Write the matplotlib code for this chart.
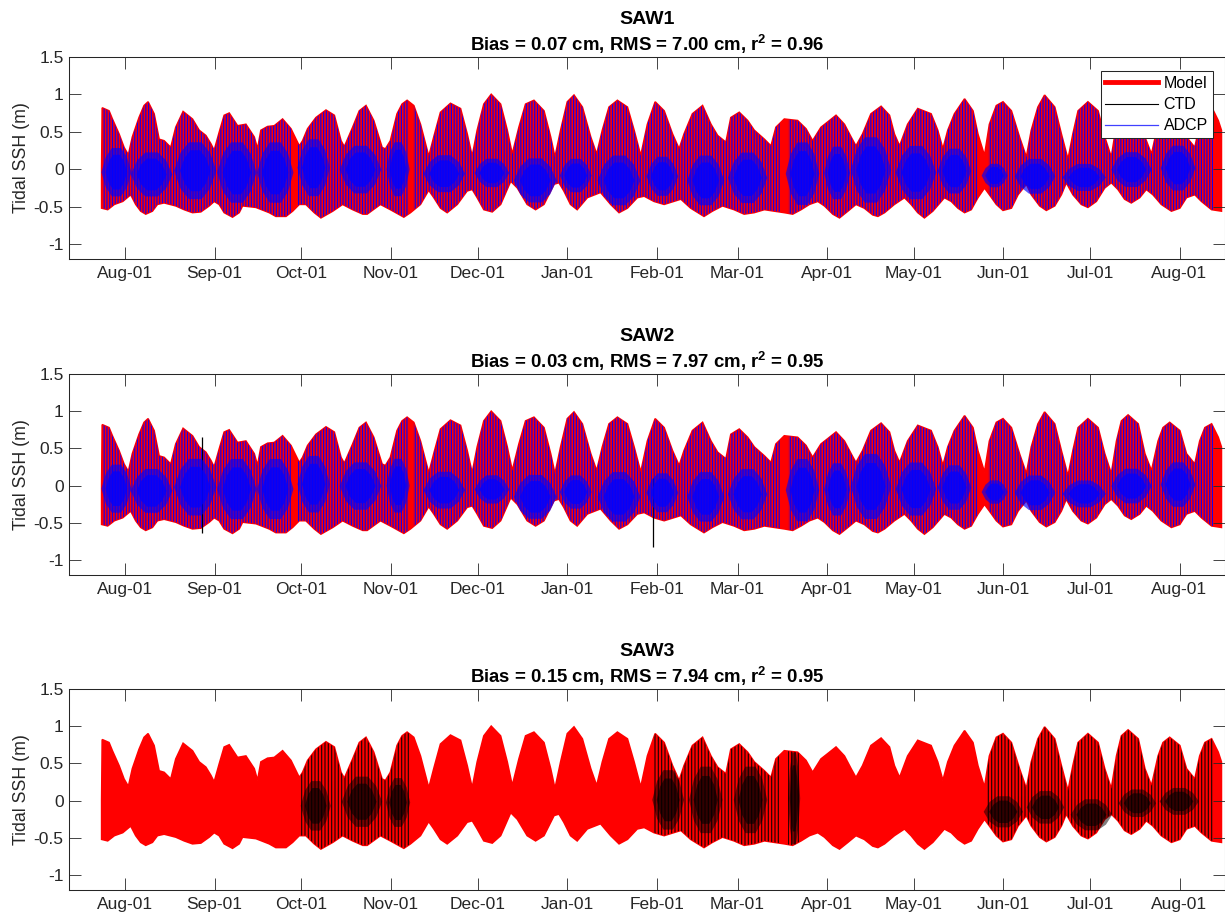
import numpy as np
import matplotlib
matplotlib.use("Agg")
import matplotlib.pyplot as plt
import matplotlib.dates as mdates
from matplotlib.patches import Rectangle
from matplotlib.lines import Line2D
from datetime import datetime

plt.rcParams['font.family'] = ['Liberation Sans', 'DejaVu Sans']
plt.rcParams['mathtext.fontset'] = 'custom'
plt.rcParams['mathtext.rm'] = 'Liberation Sans:bold'
plt.rcParams['mathtext.bf'] = 'Liberation Sans:bold'
plt.rcParams['mathtext.it'] = 'Liberation Sans:bold'
plt.rcParams['hatch.linewidth'] = 0.85

# ---------------- data (days since 2014-08-01) ----------------
station_names = ["SAW1", "SAW2", "SAW3"]
station_bias = [0.07, 0.03, 0.15]
station_rms = [7.00, 7.97, 7.94]
station_r2 = [0.96, 0.95, 0.95]

# Model tidal SSH upper envelope (m)
model_hi_day = [-8.1, -7.9, -5.55, -4.39, -2.08, -0.35, 1.16, 2.54, 4.85, 6.59, 7.97, 10.05, 11.79, 13.52,
                15.83, 17.56, 20.1, 23.34, 25.65, 27.96, 29.69, 30.85, 32.58, 34.32, 36.05, 38.94, 41.83,
                44.71, 45.87, 47.03, 49.33, 51.65, 54.53, 57.42, 60.31, 61.47, 63.2, 66.09, 69.55, 72.44,
                74.75, 75.91, 78.8, 81.1, 83.4, 86.08, 88.97, 90.12, 91.85, 94.16, 95.9, 97.63, 99.94,
                102.25, 103.99, 105.14, 106.87, 109.19, 112.65, 116.12, 118.43, 120.16, 121.9, 124.2,
                126.75, 129.98, 132.29, 134.03, 136.34, 138.65, 141.54, 145.0, 147.31, 148.81, 150.78,
                153.09, 155.4, 158.29, 161.18, 163.26, 165.22, 167.53, 170.42, 173.89, 176.2, 178.51,
                180.82, 183.5, 186.6, 189.5, 191.8, 193.5, 196.4, 199.9, 202.8, 205.1, 208.0, 209.7,
                212.6, 215.5, 217.8, 221.3, 223.6, 225.3, 228.2, 232.8, 235.7, 238.0, 240.9, 243.2,
                246.1, 249.0, 251.3, 253.0, 255.3, 258.2, 261.7, 264.6, 266.3, 268.1, 270.9, 274.4,
                279.0, 281.3, 283.1, 284.8, 287.1, 290.6, 293.5, 295.2, 297.5, 299.2, 301.6, 303.9,
                306.8, 309.6, 312.0, 313.7, 316.0, 318.3, 321.8, 324.1, 326.4, 328.1, 329.9, 333.3,
                336.8, 339.1, 341.4, 343.2, 344.9, 347.2, 350.7, 353.0, 355.3, 357.6, 359.3, 361.6,
                365.1, 367.4, 370.3, 372.0, 373.8, 376.1, 378.4, 379.5]
model_hi = [0.00, 0.82, 0.78, 0.67, 0.47, 0.29, 0.19, 0.43, 0.69, 0.85, 0.90, 0.74, 0.40, 0.38,
            0.29, 0.56, 0.77, 0.67, 0.52, 0.45, 0.34, 0.25, 0.49, 0.72, 0.75, 0.58, 0.60,
            0.43, 0.27, 0.52, 0.57, 0.58, 0.67, 0.54, 0.31, 0.38, 0.54, 0.69, 0.79, 0.72,
            0.38, 0.30, 0.56, 0.78, 0.85, 0.65, 0.29, 0.27, 0.38, 0.74, 0.87, 0.92, 0.85,
            0.60, 0.34, 0.17, 0.43, 0.76, 0.88, 0.81, 0.47, 0.17, 0.52, 0.87,
            1.00, 0.87, 0.52, 0.20, 0.56, 0.87, 0.92, 0.78, 0.43, 0.16, 0.52,
            0.90, 0.99, 0.83, 0.43, 0.20, 0.52, 0.83, 0.92, 0.83, 0.52, 0.18,
            0.60, 0.90, 0.78, 0.47, 0.27, 0.47, 0.74, 0.85, 0.60, 0.45, 0.36, 0.69,
            0.76, 0.65, 0.52, 0.40, 0.31, 0.56, 0.67, 0.65, 0.54, 0.38, 0.56, 0.63,
            0.72, 0.60, 0.43, 0.31, 0.47, 0.74, 0.84, 0.72, 0.47, 0.31, 0.60, 0.81,
            0.74, 0.52, 0.27, 0.52, 0.74, 0.94, 0.78, 0.47, 0.18, 0.60, 0.85, 0.90,
            0.78, 0.43, 0.16, 0.52, 0.83, 0.99, 0.83, 0.47, 0.13, 0.47, 0.78, 0.90,
            0.78, 0.43, 0.16, 0.60, 0.87, 0.95, 0.83, 0.43, 0.20, 0.60, 0.78, 0.85,
            0.74, 0.43, 0.29, 0.60, 0.78, 0.83, 0.65, 0.52]

# Model tidal SSH lower envelope (m)
model_lo_day = [-8.1, -6.01, -3.7, -0.81, 1.97, 3.7, 5.43, 7.16, 9.47, 11.2, 13.52, 17.56, 20.45, 23.34,
                26.23, 29.12, 30.85, 32.58, 34.32, 37.2, 39.5, 40.67, 45.29, 49.9, 52.2, 55.7, 58.0,
                60.3, 62.6, 65.5, 67.8, 71.9, 75.3, 78.8, 82.3, 83.8, 88.4, 91.85, 96.5, 98.8, 102.25,
                105.1, 106.9, 109.2, 111.5, 115.0, 118.4, 120.2, 121.9, 124.2, 127.1, 130.0, 133.5,
                135.8, 139.2, 142.1, 145.0, 148.5, 150.2, 151.9, 154.2, 156.5, 160.0, 164.6, 168.1,
                171.0, 173.9, 177.3, 179.7, 183.1, 186.6, 192.4, 195.8, 200.4, 203.3, 206.8, 210.8,
                214.3, 217.8, 221.3, 224.7, 228.2, 231.1, 234.0, 236.9, 239.8, 242.1, 245.0, 247.3,
                250.2, 253.0, 255.9, 258.8, 260.6, 262.9, 266.3, 269.8, 272.1, 274.4, 276.7, 279.6,
                282.5, 283.6, 286.0, 288.3, 290.6, 292.9, 295.2, 297.5, 299.2, 301.6, 303.9, 306.8,
                309.1, 312.0, 313.7, 316.6, 318.9, 321.8, 324.1, 325.8, 328.1, 331.0, 333.3, 336.2,
                339.1, 341.4, 343.7, 346.0, 348.3, 351.2, 353.5, 355.8, 358.7, 362.2, 365.1, 367.4,
                370.3, 372.6, 376.1, 379.5]
model_lo = [-0.52, -0.54, -0.47, -0.43, -0.34, -0.47, -0.56, -0.60, -0.56, -0.47, -0.45, -0.49, -0.54, -0.58,
            -0.57, -0.49, -0.43, -0.47, -0.58, -0.64, -0.58, -0.49, -0.51, -0.58, -0.63, -0.63, -0.56,
            -0.47, -0.47, -0.58, -0.65, -0.56, -0.47, -0.54, -0.60, -0.60, -0.47, -0.54, -0.64, -0.58, -0.47,
            -0.28, -0.38, -0.52, -0.58, -0.47, -0.29, -0.27, -0.38, -0.54, -0.57, -0.47, -0.16,
            -0.25, -0.47, -0.54, -0.47, -0.20, -0.18, -0.29, -0.47, -0.54, -0.38, -0.31, -0.47,
            -0.58, -0.52, -0.38, -0.36, -0.43, -0.47, -0.40, -0.52, -0.63, -0.56, -0.49, -0.54,
            -0.60, -0.58, -0.54, -0.56, -0.58, -0.60, -0.54, -0.47, -0.43, -0.49, -0.60, -0.65,
            -0.56, -0.47, -0.52, -0.61, -0.63, -0.58, -0.47, -0.38, -0.47, -0.58, -0.65, -0.56,
            -0.43, -0.38, -0.43, -0.52, -0.58, -0.54, -0.38, -0.25, -0.34, -0.47, -0.55, -0.52,
            -0.34, -0.20, -0.34, -0.49, -0.55, -0.49, -0.34, -0.18, -0.34, -0.47, -0.51, -0.43,
            -0.25, -0.18, -0.27, -0.40, -0.45, -0.38, -0.27, -0.34, -0.47, -0.56, -0.52, -0.38,
            -0.34, -0.43, -0.54, -0.56]

# ADCP record segments (start, end day) - gaps between deployments
adcp_seg_start = [-8.0, 59.5, 99.8, 229.5, 298.8]
adcp_seg_end = [57.8, 98.0, 227.0, 295.3, 376.6]
# dense inner part of the ADCP signal (centre day, half duration, top, bottom)
adcp_blob_day = [-3.0, 9.2, 24.3, 38.7, 52.0, 65.3, 81.5, 94.5, 110.5, 127.0, 142.0, 156.0, 171.0,
                 186.0, 201.0, 215.5, 234.5, 246.5, 258.2, 273.8, 287.1, 301.0, 315.0, 332.0, 348.4, 364.5]
adcp_blob_half = [5.2, 7.2, 7.3, 6.8, 6.3, 5.6, 7.2, 4.0, 7.2, 6.0, 7.4, 5.5, 7.4,
                  5.5, 6.4, 6.8, 5.8, 4.5, 7.0, 7.0, 5.8, 4.5, 7.0, 7.5, 7.0, 6.0]
adcp_blob_top = [0.30, 0.24, 0.38, 0.38, 0.38, 0.42, 0.33, 0.38, 0.20, 0.15, 0.16, 0.15, 0.20,
                 0.18, 0.20, 0.24, 0.38, 0.32, 0.45, 0.33, 0.29, 0.08, 0.15, 0.08, 0.24, 0.33]
adcp_blob_bot = [-0.38, -0.38, -0.42, -0.47, -0.47, -0.38, -0.34, -0.38, -0.32, -0.25, -0.46, -0.32, -0.50,
                 -0.37, -0.50, -0.47, -0.50, -0.42, -0.47, -0.42, -0.34, -0.25, -0.34, -0.30, -0.25, -0.30]

# SAW3 CTD record segments
ctd3_seg_start = [60.5, 183.2, 229.5, 298.0]
ctd3_seg_end = [98.5, 227.0, 233.8, 377.0]
ctd3_blob_day = [66.0, 82.0, 94.5, 188.0, 201.0, 216.5, 231.6, 304.0, 318.6, 334.5, 350.4, 364.9]
ctd3_blob_half = [5.2, 7.0, 4.2, 5.5, 5.8, 5.8, 2.1, 6.8, 6.5, 7.2, 6.5, 6.8]
ctd3_blob_top = [0.28, 0.34, 0.32, 0.43, 0.48, 0.48, 0.68, 0.07, 0.14, 0.03, 0.16, 0.18]
ctd3_blob_bot = [-0.42, -0.37, -0.37, -0.41, -0.46, -0.46, -0.62, -0.37, -0.32, -0.41, -0.23, -0.20]

# SAW2 CTD isolated spikes
ctd2_spike_day = [26.6, 182.7]
ctd2_spike_lo = [-0.63, -0.83]
ctd2_spike_hi = [0.66, 0.10]

# ---------------- plotting ----------------
base = mdates.date2num(datetime(2014, 8, 1))
RED = '#FF0000'
BLUE = (0.0, 0.0, 1.0)
AXC = '#262626'

hi_x = base + np.array(model_hi_day)
lo_x = base + np.array(model_lo_day)
env_x = np.concatenate([hi_x, lo_x[::-1]])
env_y = np.concatenate([np.array(model_hi), np.array(model_lo)[::-1]])

fig = plt.figure(figsize=(12.25, 9.19), dpi=100)
rects = [(0.05657, 0.7182, 0.9438, 0.2198),
         (0.05657, 0.3743, 0.9438, 0.2187),
         (0.05657, 0.0316, 0.9438, 0.2187)]


def hatch_obs(ax, starts, ends, color, alpha, z, hatch):
    for s0, s1 in zip(starts, ends):
        p = ax.fill(env_x, env_y, facecolor='none', edgecolor=(*color, alpha),
                    linewidth=0, hatch=hatch, zorder=z)[0]
        clip = Rectangle((base + s0, -5), s1 - s0, 10, transform=ax.transData)
        p.set_clip_path(clip)


def blobs(ax, days, halves, tops, bots, color, z, alphas):
    # lens outline (shape style only), scaled by each blob's read extent;
    # two layers give a denser core like the overplotted tidal line
    shape_x = [-1.0, -0.7, -0.3, 0.3, 0.7, 1.0, 0.7, 0.3, -0.3, -0.7]
    shape_k = [0.0, 0.6, 0.95, 0.95, 0.6, 0.0, 0.6, 0.95, 0.95, 0.6]
    for scale, alpha in zip((1.0, 0.72), alphas):
        for c, w, t, b in zip(days, halves, tops, bots):
            m = 0.5 * (t + b)
            xs = [base + c + sx * w * scale for sx in shape_x]
            ys = []
            for i, k in enumerate(shape_k):
                edge = t if (0 < i < 5) else b
                ys.append(m + k * scale * (edge - m))
            ax.fill(xs, ys, color=color, alpha=alpha, linewidth=0, zorder=z)


axes = []
for i, r in enumerate(rects):
    ax = fig.add_axes(r)
    axes.append(ax)
    ax.fill(env_x, env_y, facecolor=RED, edgecolor=RED, linewidth=1.2, zorder=1)

    if i == 0:
        hatch_obs(ax, adcp_seg_start, adcp_seg_end, BLUE, 0.9, 3, '||||||')
        blobs(ax, adcp_blob_day, adcp_blob_half, adcp_blob_top, adcp_blob_bot, 'blue', 4, (0.65, 0.75))
    elif i == 1:
        ax.vlines(base + np.array(ctd2_spike_day), ctd2_spike_lo, ctd2_spike_hi,
                  color='black', linewidth=0.9, zorder=2)
        hatch_obs(ax, adcp_seg_start, adcp_seg_end, BLUE, 0.9, 3, '||||||')
        blobs(ax, adcp_blob_day, adcp_blob_half, adcp_blob_top, adcp_blob_bot, 'blue', 4, (0.65, 0.75))
    else:
        hatch_obs(ax, ctd3_seg_start, ctd3_seg_end, (0.0, 0.0, 0.0), 0.85, 3, '|||||')
        blobs(ax, ctd3_blob_day, ctd3_blob_half, ctd3_blob_top, ctd3_blob_bot, 'black', 4, (0.5, 0.6))

    ax.set_xlim(base - 19.3, base + 380.9)
    ax.set_ylim(-1.2, 1.5)
    ax.set_yticks([-1, -0.5, 0, 0.5, 1, 1.5])
    ax.set_yticklabels(['-1', '-0.5', '0', '0.5', '1', '1.5'])
    ax.xaxis.set_major_locator(mdates.MonthLocator(bymonthday=1))
    ax.xaxis.set_major_formatter(mdates.DateFormatter('%b-%d'))
    ax.tick_params(direction='in', top=True, right=True, length=8.3, width=0.6,
                   color=AXC, labelcolor=AXC, labelsize=12.5)
    ax.tick_params(axis='x', pad=5)
    ax.tick_params(axis='y', pad=4)
    for sp in ax.spines.values():
        sp.set_color(AXC)
        sp.set_linewidth(0.75)
    ax.set_ylabel('Tidal SSH (m)', fontsize=12.8, color=AXC)
    ax.yaxis.set_label_coords(-0.034, 0.5)

    h_px = r[3] * 919
    ax.text(0.5, 1 + 33 / h_px, station_names[i], transform=ax.transAxes, ha='center',
            va='baseline', fontsize=14, fontweight='bold', color='black')
    stats = ('Bias = %.2f cm, RMS = %.2f cm, r$^{2}$ = %.2f'
             % (station_bias[i], station_rms[i], station_r2[i]))
    ax.text(0.5, 1 + 6.3 / h_px, stats, transform=ax.transAxes, ha='center',
            va='baseline', fontsize=13.4, fontweight='bold', color='black')

handles = [Line2D([], [], color=RED, linewidth=3.5),
           Line2D([], [], color='black', linewidth=0.8),
           Line2D([], [], color='#4040ff', linewidth=0.9)]
leg = axes[0].legend(handles, ['Model', 'CTD', 'ADCP'], loc='upper right',
                     bbox_to_anchor=(0.989, 0.931), fontsize=11.5, fancybox=False,
                     framealpha=1, edgecolor=AXC, handlelength=3.3, handletextpad=0.35,
                     labelspacing=0.4, borderpad=0.3, borderaxespad=0)
leg.get_frame().set_linewidth(0.75)
leg.set_zorder(10)

fig.savefig('out.png', dpi=100)
